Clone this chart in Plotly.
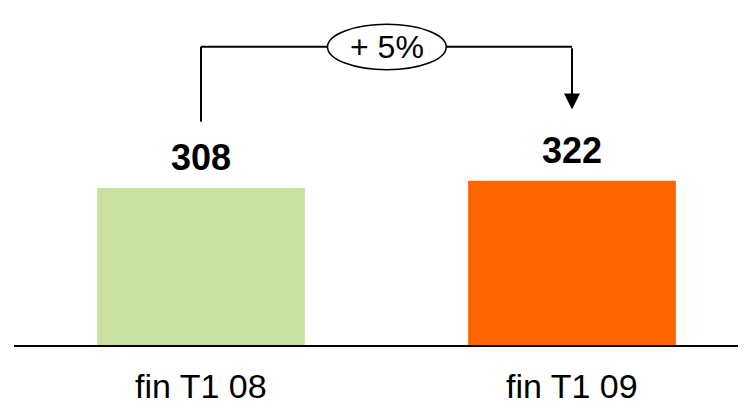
import plotly.graph_objects as go

categories = ["fin T1 08", "fin T1 09"]
values = [308, 322]
colors = ["#C9E0A3", "#FF6600"]
change_label = "+ %d%%" % round((values[1] - values[0]) / values[0] * 100)

FONT = "Liberation Sans, Arial, Helvetica, sans-serif"
ymax = 661
xs = list(range(len(categories)))

fig = go.Figure(go.Bar(
    x=xs, y=values, marker=dict(color=colors, line=dict(width=0)),
    width=0.56, hoverinfo="skip",
))

# value labels
for i, v in enumerate(values):
    fig.add_annotation(x=xs[i], y=v, text="<b>%d</b>" % v, showarrow=False,
                       yanchor="bottom", yshift=8,
                       font=dict(family=FONT, size=36, color="black"))

# category labels
for i, c in enumerate(categories):
    fig.add_annotation(x=xs[i], y=0, xref="x", yref="paper", text=c, showarrow=False,
                       yanchor="top", yshift=-21, borderpad=0,
                       font=dict(family=FONT, size=34, color="black"))

# bracket
yb = 585
y_left_bottom = 438
y_arrow_tip = 462
ex0, ex1 = 0.341, 0.661
ey0, ey1 = 540, 629
line = dict(color="black", width=2)
fig.add_shape(type="line", xref="x", yref="y", x0=xs[0], x1=xs[0], y0=y_left_bottom, y1=yb, line=line)
fig.add_shape(type="line", xref="x", yref="y", x0=xs[0], x1=ex0, y0=yb, y1=yb, line=line)
fig.add_shape(type="line", xref="x", yref="y", x0=ex1, x1=xs[1], y0=yb, y1=yb, line=line)
fig.add_shape(type="circle", xref="x", yref="y", x0=ex0, x1=ex1, y0=ey0, y1=ey1,
              line=dict(color="black", width=1.5), fillcolor="white")
fig.add_annotation(x=xs[1], y=y_arrow_tip, ax=xs[1], ay=yb, xref="x", yref="y",
                   axref="x", ayref="y", text="", showarrow=True,
                   arrowhead=2, arrowsize=1.6, arrowwidth=2, arrowcolor="black")
fig.add_annotation(x=(ex0 + ex1) / 2, y=(ey0 + ey1) / 2, text=change_label, showarrow=False,
                   font=dict(family=FONT, size=32, color="black"))

fig.update_layout(
    width=746, height=407,
    margin=dict(l=6, r=0, t=0, b=70, autoexpand=False),
    plot_bgcolor="white", paper_bgcolor="white",
    showlegend=False,
    xaxis=dict(range=[-0.504, 1.4906], showticklabels=False, automargin=False,
               showline=True, linecolor="black", linewidth=2, showgrid=False, zeroline=False,
               ticks=""),
    yaxis=dict(range=[0, ymax], visible=False, showgrid=False, zeroline=False, automargin=False),
)

fig.write_html("out.html")
